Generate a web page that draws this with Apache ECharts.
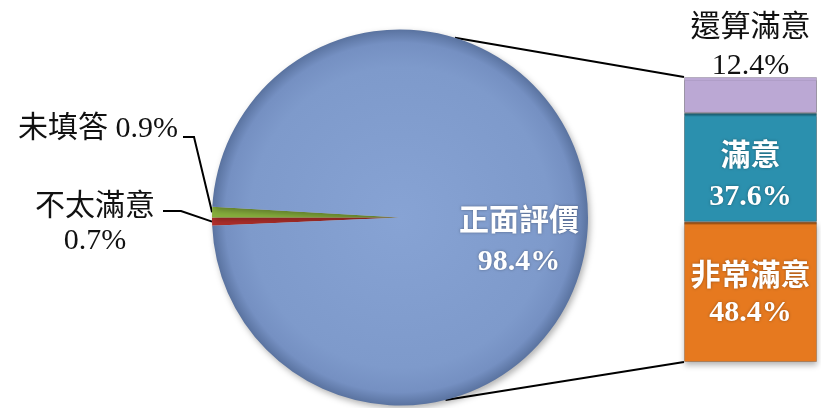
<!DOCTYPE html>
<html>
<head>
<meta charset="utf-8">
<script src="https://cdn.jsdelivr.net/npm/echarts@6/dist/echarts.min.js"></script>
<style>
  html, body { margin: 0; padding: 0; background: #ffffff; }
  #chart { width: 821px; height: 408px; }
</style>
</head>
<body>
<div id="chart"></div>
<script>
// Pie slices (percent of all answers), ordered clockwise from the lower-left
const pieNames  = ['不太滿意', '未填答', '正面評價'];
const pieValues = [0.7, 0.9, 98.4];

// Breakdown of the positive share, stacked bottom to top
const barNames  = ['非常滿意', '滿意', '還算滿意'];
const barValues = [48.4, 37.6, 12.4];

// Layout
const PIE_CX = 400, PIE_CY = 217.5, PIE_R = 188;
const BAR_LEFT = 684, BAR_TOP = 77, BAR_W = 133, BAR_H = 285;
const FONT = '"Liberation Serif", "Noto Sans CJK TC", serif';
const FS = 30;

const pieColors = ['#b5302c', '#86ae3c', null];
const barColors = ['#e6791f', '#2b90ae', '#bba8d4'];
// Label tweaks per bar segment: [lineHeight, vertical offset]
const barLabelFit = [[36, 3], [40, 10], [38, 0]];

// Small slices sit on the left, centred on the horizontal
const startAngle = 180 + pieValues[0] * 3.6;

const bigFill = {
  type: 'radial', x: 0.5, y: 0.5, r: 0.5,
  colorStops: [
    { offset: 0, color: '#87a3d4' },
    { offset: 0.8, color: '#7e9acb' },
    { offset: 0.93, color: '#7590c2' },
    { offset: 1, color: '#5a73a0' }
  ]
};

const pieData = pieNames.map((n, i) => ({
  name: n,
  value: pieValues[i],
  itemStyle: { color: pieColors[i] || bigFill }
}));

const chart = echarts.init(document.getElementById('chart'), null, { renderer: 'canvas' });

const bottomTotal = barValues.reduce((a, b) => a + b, 0);

function toRad(d) { return d * Math.PI / 180; }
// Connector anchors on the pie rim
const topAngle = 73, botAngle = -76;
const topPt = [PIE_CX + PIE_R * Math.cos(toRad(topAngle)), PIE_CY - PIE_R * Math.sin(toRad(topAngle))];
const botPt = [PIE_CX + PIE_R * Math.cos(toRad(botAngle)), PIE_CY - PIE_R * Math.sin(toRad(botAngle))];

const option = {
  animation: false,
  backgroundColor: '#ffffff',
  grid: { left: BAR_LEFT, top: BAR_TOP, width: BAR_W, height: BAR_H },
  xAxis: { type: 'category', data: ['正面評價'], show: false },
  yAxis: { type: 'value', min: 0, max: bottomTotal, show: false },
  graphic: [
    { type: 'line', z: 1, shape: { x1: topPt[0], y1: topPt[1], x2: BAR_LEFT, y2: BAR_TOP },
      style: { stroke: '#000', lineWidth: 2 } },
    { type: 'line', z: 1, shape: { x1: botPt[0], y1: botPt[1], x2: BAR_LEFT, y2: BAR_TOP + BAR_H },
      style: { stroke: '#000', lineWidth: 2 } }
  ],
  series: [
    {
      type: 'pie',
      center: [PIE_CX, PIE_CY],
      radius: [0, PIE_R],
      startAngle: startAngle,
      clockwise: true,
      avoidLabelOverlap: false,
      itemStyle: {
        shadowBlur: 6, shadowColor: 'rgba(0,0,0,0.3)', shadowOffsetX: 2, shadowOffsetY: 3
      },
      label: {
        show: true,
        fontFamily: FONT,
        fontSize: FS,
        lineHeight: 34,
        color: '#111'
      },
      labelLine: { show: true, lineStyle: { color: '#000', width: 2 } },
      data: pieData.map((d, i) => {
        if (i === 2) {
          d.label = {
            position: 'inside', color: '#ffffff', fontWeight: 'bold',
            lineHeight: 40,
            formatter: p => p.name + '\n' + p.value.toFixed(1) + '%',
            textShadowColor: 'rgba(0,0,0,0.35)', textShadowBlur: 3
          };
          d.labelLine = { show: false };
        } else if (i === 1) {
          d.label = { position: 'outside', formatter: p => p.name + ' ' + p.value.toFixed(1) + '%' };
        } else {
          d.label = { position: 'outside', formatter: p => p.name + '\n' + p.value.toFixed(1) + '%' };
        }
        return d;
      }),
      labelLayout: function (params) {
        const start = params.labelLinePoints ? params.labelLinePoints[0] : null;
        if (params.dataIndex === 2) {
          return { dx: 22, dy: 24 };
        }
        if (params.dataIndex === 1) {
          return {
            x: 178, y: 129, align: 'right', verticalAlign: 'middle',
            labelLinePoints: start ? [start, [194, 137], [183, 137]] : undefined
          };
        }
        return {
          x: 95, y: 224, align: 'center', verticalAlign: 'middle',
          labelLinePoints: start ? [start, [181, 211], [163, 211]] : undefined
        };
      }
    },
    ...barNames.map((n, i) => ({
      type: 'bar',
      name: n,
      stack: 'positive',
      barWidth: '100%',
      data: [barValues[i]],
      itemStyle: {
        color: barColors[i],
        borderColor: 'rgba(0,0,0,0.18)',
        borderWidth: 1,
        shadowBlur: i === 0 ? 6 : 0,
        shadowColor: 'rgba(0,0,0,0.3)',
        shadowOffsetY: 3
      },
      label: i === 2 ? {
        show: true, position: 'top', distance: -8,
        fontFamily: FONT, fontSize: FS, lineHeight: barLabelFit[i][0], color: '#111',
        formatter: () => n + '\n' + barValues[i].toFixed(1) + '%'
      } : {
        show: true, position: 'inside', offset: [0, barLabelFit[i][1]],
        fontFamily: FONT, fontSize: FS, lineHeight: barLabelFit[i][0], color: '#ffffff', fontWeight: 'bold',
        textShadowColor: 'rgba(0,0,0,0.35)', textShadowBlur: 3,
        formatter: () => n + '\n' + barValues[i].toFixed(1) + '%'
      }
    }))
  ]
};

chart.setOption(option);
</script>
</body>
</html>
